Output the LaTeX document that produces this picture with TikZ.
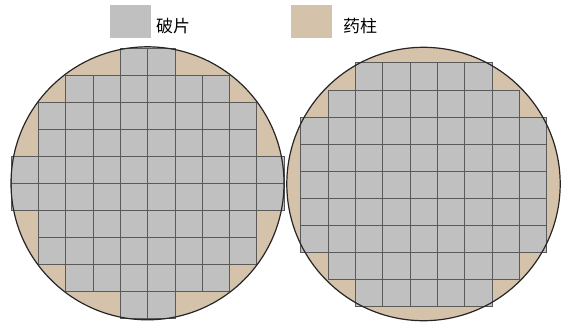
\documentclass[tikz,border=0pt]{standalone}
\usepackage{fontspec}
\newfontfamily\cjk{Noto Sans CJK SC}
\definecolor{frag}{RGB}{192,192,192}
\definecolor{charge}{RGB}{213,194,170}
\definecolor{gridline}{RGB}{90,90,90}
\begin{document}
\begin{tikzpicture}[x=1pt,y=-1pt,
  cell/.style={fill=frag, draw=gridline, line width=0.6pt},
  rim/.style={draw=black!85, line width=1.2pt},
  legendbox/.style={fill=#1, draw=none, minimum width=41pt, minimum height=33pt, inner sep=0pt},
  legendtext/.style={anchor=west, inner sep=0pt, font=\cjk\fontsize{17}{20}\selectfont}]
\useasboundingbox (0,0) rectangle (569,325);
% legend
\node[legendbox=frag] (lgfrag) at (130.5,21.5) {};
\node[legendtext] (txfrag) at (156,26.5) {破片};
\node[legendbox=charge] (lgcharge) at (311,21.5) {};
\node[legendtext] (txcharge) at (343,26.5) {药柱};
% left disk
\fill[charge] (147.5,183.3) circle (136.5);
\foreach \r/\a/\b in {0/4/5,1/2/7,2/1/8,3/1/8,4/0/9,5/0/9,6/1/8,7/1/8,8/2/7,9/4/5}{
  \foreach \c in {\a,...,\b}{
    \draw[cell] (11+\c*27.3, 48.3+\r*27) rectangle ++(27.3,27);
  }
}
\draw[rim] (147.5,183.3) circle (136.5);
% right disk
\fill[charge] (423.5,184) circle (136.7);
\foreach \r/\a/\b in {0/2/6,1/1/7,2/0/8,3/0/8,4/0/8,5/0/8,6/0/8,7/1/7,8/2/6}{
  \foreach \c in {\a,...,\b}{
    \draw[cell] (300.7+\c*27.33, 62.7+\r*27.1) rectangle ++(27.33,27.1);
  }
}
\draw[rim] (423.5,184) circle (136.7);
\end{tikzpicture}
\end{document}
